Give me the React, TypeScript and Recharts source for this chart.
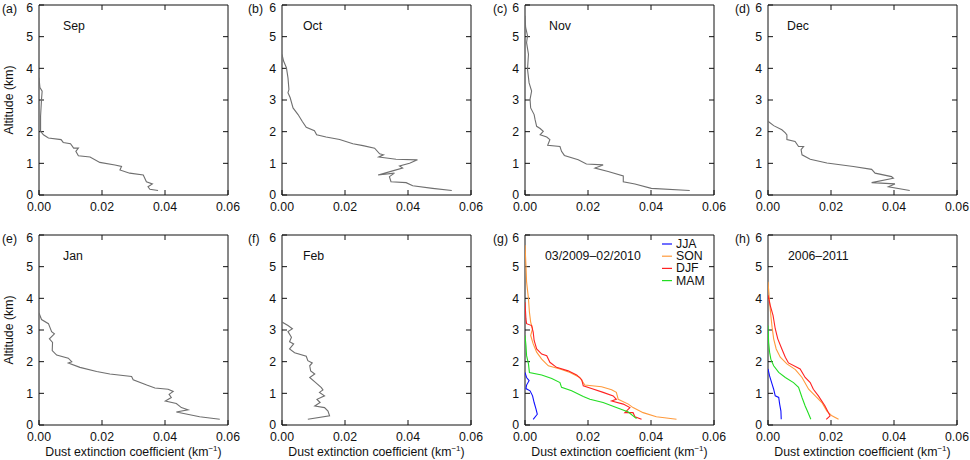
import React from 'react';
import { ScatterChart, Scatter, XAxis, YAxis } from 'recharts';

// [extinction (km^-1), altitude (km)], top to bottom
const SEP = [
  [0, 3.7], [0.0003, 3.39], [0.001, 3.28], [0.0008, 3.02], [0.0005, 2.49], [0.0005, 2.01],
  [0.0014, 1.9], [0.003, 1.8], [0.007, 1.75], [0.0077, 1.66], [0.01, 1.62], [0.011, 1.48],
  [0.0125, 1.48], [0.0117, 1.38], [0.0125, 1.24], [0.0162, 1.2], [0.0193, 1.03], [0.0241, 0.95],
  [0.0262, 0.9], [0.0257, 0.79], [0.0288, 0.69], [0.0331, 0.63], [0.0341, 0.42], [0.036, 0.35],
  [0.0346, 0.26], [0.0352, 0.18], [0.0378, 0.14],
];
const OCT = [
  [0, 4.44], [0.0005, 4.23], [0.0014, 4.02], [0.0019, 3.7], [0.0022, 3.33], [0.0019, 3.23],
  [0.0026, 3.07], [0.0035, 2.75], [0.0051, 2.54], [0.0064, 2.33], [0.0077, 2.14], [0.0103, 2.03],
  [0.011, 1.9], [0.014, 1.83], [0.0183, 1.75], [0.0225, 1.62], [0.0257, 1.56], [0.0294, 1.48],
  [0.031, 1.3], [0.0322, 1.27], [0.0307, 1.2], [0.0362, 1.13], [0.043, 1.11], [0.0405, 1.0],
  [0.0373, 0.92], [0.0383, 0.85], [0.0354, 0.77], [0.0305, 0.63], [0.0357, 0.69], [0.0341, 0.58],
  [0.0346, 0.42], [0.0394, 0.39], [0.0415, 0.29], [0.0478, 0.21], [0.0539, 0.14],
];
const NOV = [
  [0, 5.66], [0.0002, 5.29], [0.0008, 5.03], [0.0005, 4.81], [0.0011, 4.44], [0.0008, 3.97],
  [0.0013, 3.54], [0.0021, 3.28], [0.0016, 3.02], [0.0018, 2.75], [0.0029, 2.54], [0.0032, 2.38],
  [0.0037, 2.17], [0.0048, 2.1], [0.0058, 2.01], [0.0048, 1.9], [0.0069, 1.83], [0.0079, 1.75],
  [0.0072, 1.57], [0.0111, 1.53], [0.0116, 1.38], [0.0125, 1.25], [0.0169, 1.11], [0.0195, 0.98],
  [0.0248, 0.95], [0.0222, 0.85], [0.0264, 0.74], [0.0312, 0.6], [0.0312, 0.42], [0.0349, 0.35],
  [0.0401, 0.21], [0.0523, 0.14],
];
const DEC = [
  [0, 2.33], [0.0018, 2.19], [0.0044, 2.06], [0.0055, 1.96], [0.006, 1.9], [0.006, 1.75],
  [0.0086, 1.69], [0.0097, 1.53], [0.0113, 1.53], [0.0105, 1.43], [0.0108, 1.27], [0.0134, 1.13],
  [0.0187, 1.01], [0.0271, 0.9], [0.0329, 0.81], [0.034, 0.69], [0.0392, 0.58], [0.0398, 0.53],
  [0.0329, 0.39], [0.0403, 0.35], [0.0382, 0.26], [0.045, 0.14],
];
const JAN = [
  [0, 3.54], [0.0008, 3.33], [0.003, 3.2], [0.004, 2.95], [0.0049, 2.88], [0.0033, 2.72],
  [0.0043, 2.61], [0.0042, 2.35], [0.0056, 2.21], [0.0093, 2.11], [0.0104, 2.0], [0.0093, 1.96],
  [0.013, 1.82], [0.0183, 1.69], [0.0225, 1.61], [0.0294, 1.53], [0.0299, 1.43], [0.0342, 1.26],
  [0.0368, 1.17], [0.041, 1.13], [0.0426, 1.06], [0.0413, 0.97], [0.042, 0.87], [0.0401, 0.76],
  [0.0436, 0.68], [0.0452, 0.55], [0.0473, 0.48], [0.0436, 0.41], [0.051, 0.26], [0.0574, 0.18],
];
const FEB = [
  [0, 3.25], [0.0019, 3.14], [0.0033, 3.04], [0.0019, 2.95], [0.003, 2.77], [0.0024, 2.63],
  [0.0037, 2.56], [0.0024, 2.4], [0.004, 2.28], [0.0077, 2.17], [0.0082, 2.03], [0.0096, 1.96],
  [0.0088, 1.87], [0.0091, 1.71], [0.0104, 1.61], [0.0088, 1.5], [0.0107, 1.34], [0.0125, 1.18],
  [0.013, 1.11], [0.0119, 1.03], [0.0135, 0.92], [0.0111, 0.81], [0.0121, 0.71], [0.0104, 0.6],
  [0.0135, 0.55], [0.0146, 0.44], [0.0151, 0.29], [0.0082, 0.18],
];

// 03/2009-02/2010 seasonal means
const JJA_0910 = [
  [0, 1.66], [0.0005, 1.5], [0.0013, 1.4], [0.0005, 1.26], [0.0003, 1.15], [0.0016, 1.08],
  [0.0024, 0.92], [0.0029, 0.71], [0.0035, 0.5], [0.0039, 0.34], [0.0026, 0.18],
];
const SON_0910 = [
  [0, 5.68], [0.0003, 5.05], [0.0005, 4.52], [0.0011, 3.99], [0.0014, 3.57], [0.0018, 3.25],
  [0.0024, 3.04], [0.0018, 2.83], [0.0026, 2.56], [0.0037, 2.3], [0.0053, 2.08], [0.0074, 1.87],
  [0.0111, 1.77], [0.0143, 1.66], [0.0174, 1.5], [0.019, 1.26], [0.0243, 1.21], [0.0275, 1.11],
  [0.029, 1.03], [0.0296, 0.81], [0.0328, 0.66], [0.0343, 0.55], [0.0375, 0.39], [0.0417, 0.26],
  [0.0481, 0.18],
];
const DJF_0910 = [
  [0, 3.88], [0.0003, 3.35], [0.0005, 3.2], [0.0021, 3.14], [0.0026, 2.93], [0.0029, 2.67],
  [0.0037, 2.4], [0.0053, 2.24], [0.0069, 2.19], [0.0079, 1.98], [0.01, 1.82], [0.0137, 1.71],
  [0.0164, 1.58], [0.018, 1.43], [0.0185, 1.24], [0.0211, 1.15], [0.0248, 1.03], [0.028, 0.92],
  [0.029, 0.81], [0.0275, 0.76], [0.0312, 0.66], [0.0333, 0.55], [0.0317, 0.39], [0.0343, 0.39],
  [0.0349, 0.26], [0.037, 0.18],
];
const MAM_0910 = [
  [0, 2.83], [0.0003, 2.51], [0.0005, 2.19], [0.0011, 1.93], [0.0014, 1.66], [0.0053, 1.58],
  [0.0085, 1.47], [0.0111, 1.34], [0.0116, 1.19], [0.0148, 1.08], [0.0185, 0.9], [0.0206, 0.81],
  [0.0248, 0.71], [0.029, 0.55], [0.0328, 0.41], [0.0354, 0.2],
];

// 2006-2011 seasonal means
const JJA_0611 = [
  [0, 1.77], [0.0005, 1.55], [0.0013, 1.29], [0.0018, 1.13], [0.0023, 0.92], [0.0034, 0.87],
  [0.0037, 0.66], [0.0041, 0.44], [0.0042, 0.18],
];
const SON_0611 = [
  [0, 4.52], [0.0005, 3.88], [0.0009, 3.46], [0.0013, 3.09], [0.0018, 2.72], [0.0026, 2.4],
  [0.0039, 2.14], [0.006, 1.93], [0.0087, 1.75], [0.0108, 1.5], [0.0129, 1.13], [0.015, 0.92],
  [0.0171, 0.71], [0.0187, 0.44], [0.0203, 0.29], [0.0224, 0.18],
];
const DJF_0611 = [
  [0, 4.1], [0.0007, 3.78], [0.0016, 3.46], [0.0023, 3.04], [0.0031, 2.72], [0.0044, 2.4],
  [0.0055, 2.14], [0.0065, 1.96], [0.0102, 1.77], [0.0118, 1.5], [0.0134, 1.34], [0.0144, 1.13],
  [0.016, 0.92], [0.0181, 0.6], [0.0197, 0.29], [0.0185, 0.18],
];
const MAM_0611 = [
  [0, 3.14], [0.0002, 2.61], [0.0005, 2.3], [0.0009, 2.08], [0.0018, 1.87], [0.0034, 1.66],
  [0.0055, 1.5], [0.0081, 1.34], [0.0097, 1.19], [0.0108, 0.87], [0.0118, 0.6], [0.0125, 0.44],
  [0.0136, 0.18],
];

const X_TICKS = [0, 0.02, 0.04, 0.06];
const Y_TICKS = [0, 1, 2, 3, 4, 5, 6];
const SEASONS = ['JJA', 'SON', 'DJF', 'MAM'];
const SEASON_COLORS = ['#1010ff', '#ff9a3c', '#ff2222', '#22dd22'];
const GREY = '#6f6f6f';

const toPts = (rows: number[][]) => rows.map(([x, alt]) => ({ x, alt }));

type Series = { name: string; color: string; data: { x: number; alt: number }[] };

const monthly = (name: string, rows: number[][]): Series[] => [{ name, color: GREY, data: toPts(rows) }];
const seasonal = (sets: number[][][]): Series[] =>
  sets.map((rows, i) => ({ name: SEASONS[i], color: SEASON_COLORS[i], data: toPts(rows) }));

const PANELS = [
  { letter: '(a)', title: 'Sep', series: monthly('Sep', SEP) },
  { letter: '(b)', title: 'Oct', series: monthly('Oct', OCT) },
  { letter: '(c)', title: 'Nov', series: monthly('Nov', NOV) },
  { letter: '(d)', title: 'Dec', series: monthly('Dec', DEC) },
  { letter: '(e)', title: 'Jan', series: monthly('Jan', JAN) },
  { letter: '(f)', title: 'Feb', series: monthly('Feb', FEB) },
  { letter: '(g)', title: '03/2009\u201302/2010', series: seasonal([JJA_0910, SON_0910, DJF_0910, MAM_0910]) },
  { letter: '(h)', title: '2006\u20132011', series: seasonal([JJA_0611, SON_0611, DJF_0611, MAM_0611]) },
];

// layout (pixels)
const CELL_W = 243;
const CELL_H = 230;
const PLOT_L = 39;
const PLOT_T = 5;
const PLOT_W = 189;
const PLOT_H = 190;
const TICK_PX = 5;
const LETTER_X = [2, 248, 493, 735];
const TITLE_DX = [24, 21, 24, 19];
const FONT = '"Liberation Sans", Arial, Helvetica, sans-serif';
const INK = '#111';

const X_MAX = X_TICKS[X_TICKS.length - 1];
const Y_MAX = Y_TICKS[Y_TICKS.length - 1];

const Panel = ({ series, left, top }: { series: Series[]; left: number; top: number }) => (
  <div style={{ position: 'absolute', left, top }}>
    <ScatterChart
      width={CELL_W}
      height={CELL_H}
      margin={{ top: PLOT_T, right: CELL_W - PLOT_L - PLOT_W, bottom: 0, left: 0 }}
    >
      <XAxis
        type="number"
        dataKey="x"
        domain={[0, X_MAX]}
        ticks={X_TICKS}
        allowDataOverflow
        tickFormatter={(v: number) => v.toFixed(2)}
        height={CELL_H - PLOT_T - PLOT_H}
        tickSize={-TICK_PX}
        tickMargin={12}
        stroke={INK}
        tick={{ fontSize: 12.3, fill: INK }}
      />
      <YAxis
        type="number"
        dataKey="alt"
        domain={[0, Y_MAX]}
        ticks={Y_TICKS}
        allowDataOverflow
        width={PLOT_L}
        tickSize={-TICK_PX}
        tickMargin={11}
        stroke={INK}
        tick={{ fontSize: 12.3, fill: INK }}
      />
      {series.map((s) => (
        <Scatter
          key={s.name}
          name={s.name}
          data={s.data}
          fill={s.color}
          line={{ stroke: s.color, strokeWidth: 1.1 }}
          shape={() => <g />}
          isAnimationActive={false}
        />
      ))}
    </ScatterChart>
  </div>
);

// top and right edges of a panel frame with inward mirror ticks
const FrameEdges = ({ x0, y0 }: { x0: number; y0: number }) => (
  <g stroke={INK} strokeWidth={1} fill="none">
    <line x1={x0} x2={x0 + PLOT_W} y1={y0} y2={y0} />
    <line x1={x0 + PLOT_W} x2={x0 + PLOT_W} y1={y0} y2={y0 + PLOT_H} />
    {X_TICKS.slice(1, -1).map((t) => {
      const x = x0 + (t / X_MAX) * PLOT_W;
      return <line key={`x${t}`} x1={x} x2={x} y1={y0} y2={y0 + TICK_PX} />;
    })}
    {Y_TICKS.slice(1, -1).map((t) => {
      const y = y0 + PLOT_H - (t / Y_MAX) * PLOT_H;
      return <line key={`y${t}`} x1={x0 + PLOT_W - TICK_PX} x2={x0 + PLOT_W} y1={y} y2={y} />;
    })}
  </g>
);

export default function App() {
  return (
    <div
      style={{
        position: 'absolute',
        left: 0,
        top: 0,
        width: 970,
        height: 460,
        overflow: 'hidden',
        background: '#fff',
        fontFamily: FONT,
      }}
    >
      {PANELS.map((p, i) => (
        <Panel key={p.letter} series={p.series} left={(i % 4) * CELL_W} top={Math.floor(i / 4) * CELL_H} />
      ))}
      <svg
        width={970}
        height={460}
        style={{ position: 'absolute', left: 0, top: 0, pointerEvents: 'none' }}
        fontFamily={FONT}
        fontSize={12.3}
        fill={INK}
      >
        {PANELS.map((p, i) => {
          const col = i % 4;
          const row = Math.floor(i / 4);
          const plotLeft = col * CELL_W + PLOT_L;
          const plotTop = row * CELL_H + PLOT_T;
          return (
            <g key={p.letter}>
              <FrameEdges x0={plotLeft} y0={plotTop} />
              <text x={LETTER_X[col]} y={plotTop + 8}>{p.letter}</text>
              <text x={plotLeft + (i >= 6 ? 20 : TITLE_DX[col])} y={plotTop + 25}>{p.title}</text>
            </g>
          );
        })}
        {[0, 1].map((row) => {
          const cy = row * CELL_H + PLOT_T + PLOT_H / 2;
          return (
            <text key={row} x={9} y={cy} textAnchor="middle" dominantBaseline="central" transform={`rotate(-90 9 ${cy})`}>
              Altitude (km)
            </text>
          );
        })}
        {[0, 1, 2, 3].map((col) => (
          <text key={col} x={col * CELL_W + PLOT_L + PLOT_W / 2} y={456} textAnchor="middle">
            Dust extinction coefficient (km
            <tspan dy={-5} fontSize={8}>{'\u22121'}</tspan>
            <tspan dy={5}>)</tspan>
          </text>
        ))}
        {SEASONS.map((name, k) => {
          const y = 244 + k * 12.2;
          return (
            <g key={name}>
              <line x1={662} x2={672} y1={y} y2={y} stroke={SEASON_COLORS[k]} strokeWidth={1.2} />
              <text x={676} y={y} dominantBaseline="central">{name}</text>
            </g>
          );
        })}
      </svg>
    </div>
  );
}
